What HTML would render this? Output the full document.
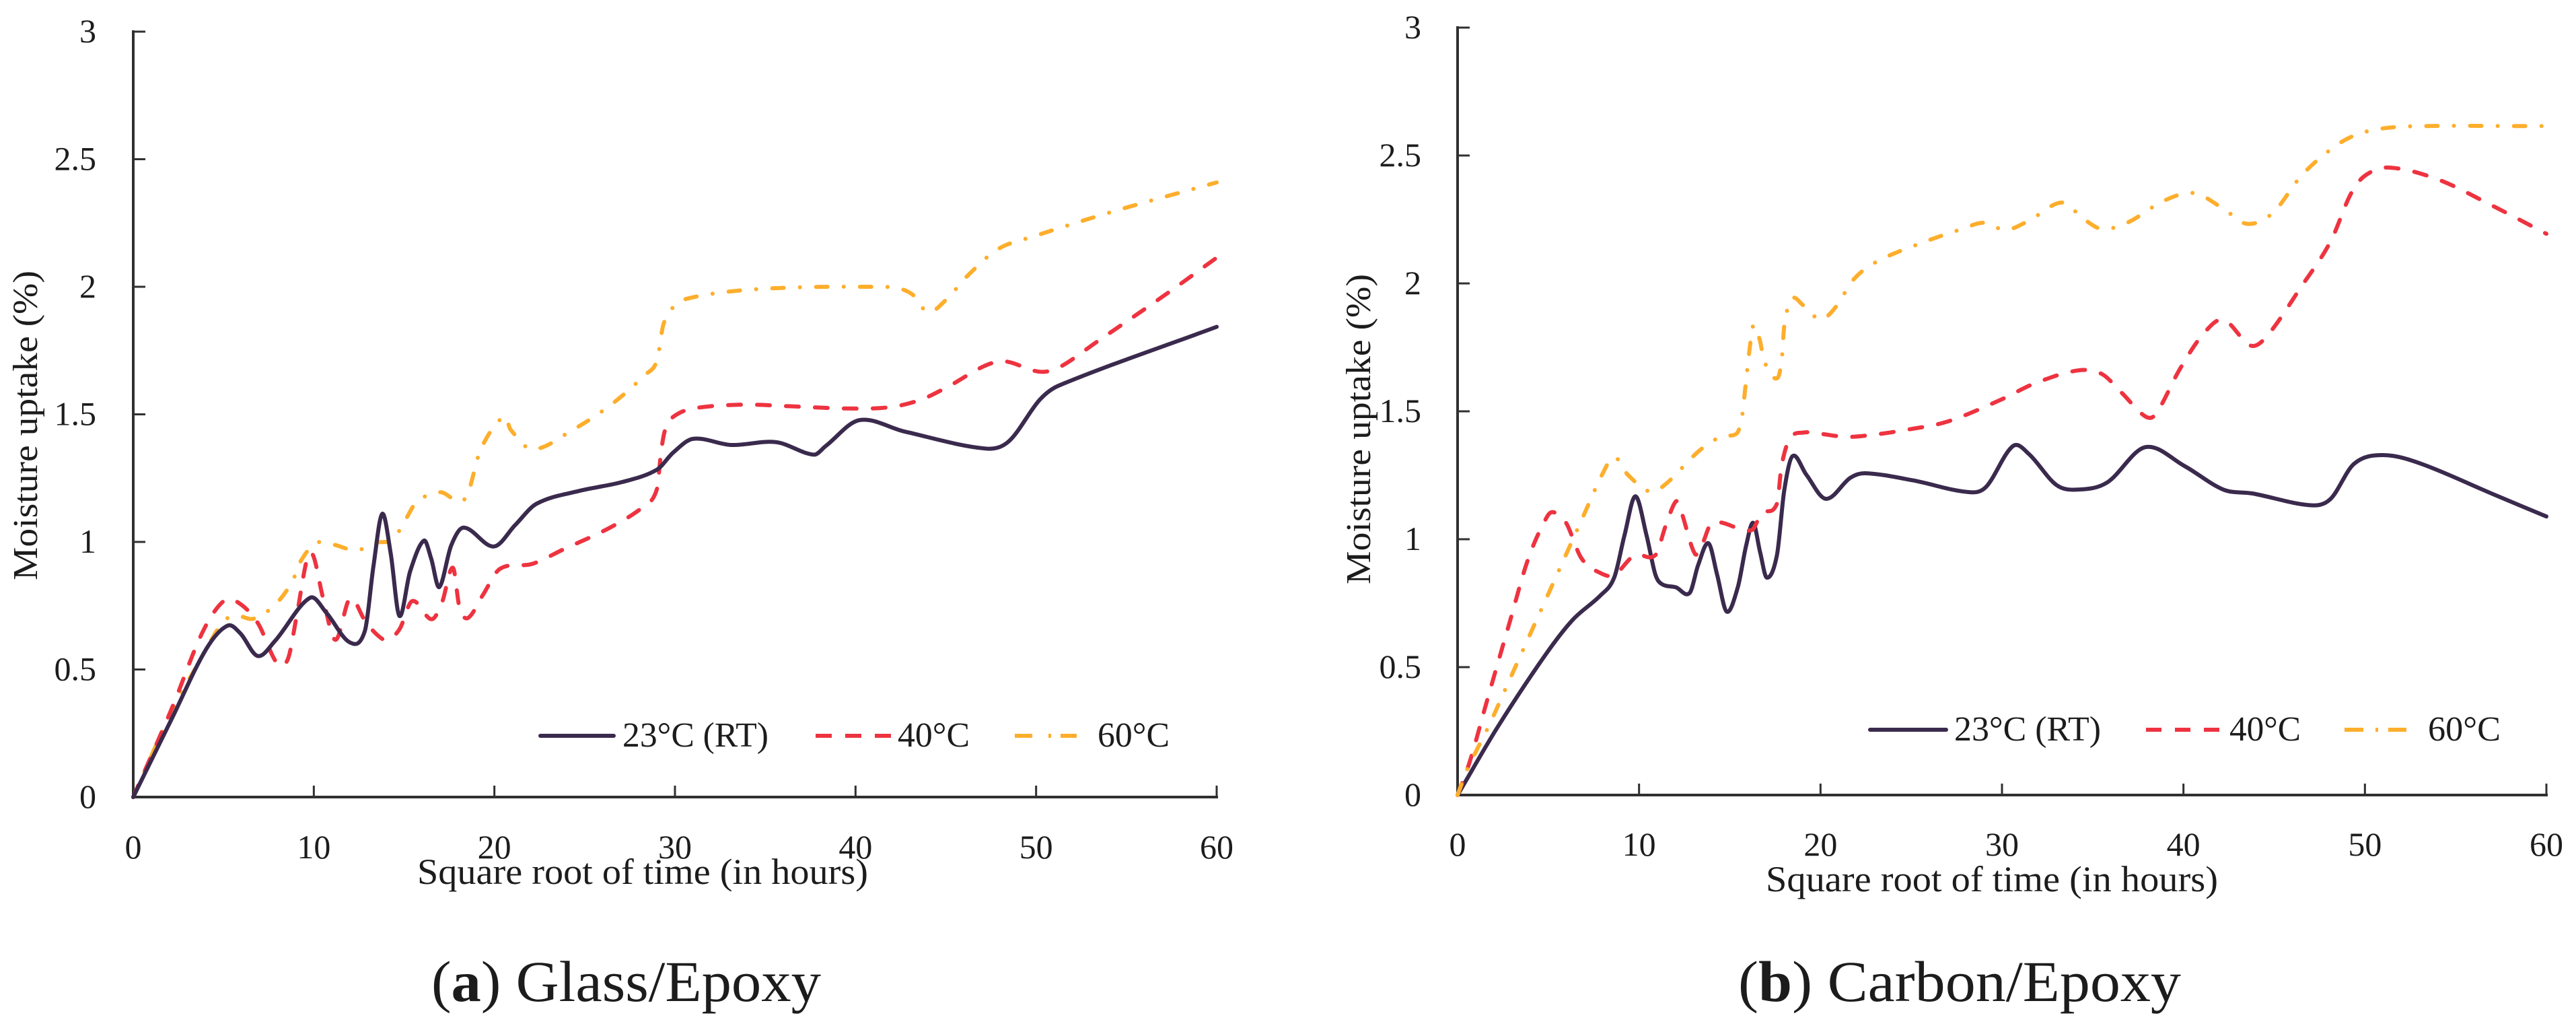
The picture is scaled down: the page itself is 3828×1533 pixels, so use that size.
<!DOCTYPE html>
<html lang="en">
<head>
<meta charset="utf-8">
<title>Moisture uptake: Glass/Epoxy and Carbon/Epoxy</title>
<style>
  html, body { margin: 0; padding: 0; background: #ffffff; }
  body { width: 3828px; height: 1533px; overflow: hidden; }
  svg { display: block; }
  text { font-family: "Liberation Serif", "DejaVu Serif", serif; fill: #1c1c1c; }
</style>
</head>
<body>
<svg id="figure" xmlns="http://www.w3.org/2000/svg" width="3828" height="1533" viewBox="0 0 3828 1533">
  <rect x="0" y="0" width="3828" height="1533" fill="#ffffff"/>

  <g id="panel-a"></g>
  <g id="panel-b"></g>

  <text transform="translate(55,862) rotate(-90)" font-size="52" textLength="460" lengthAdjust="spacingAndGlyphs">Moisture uptake (%)</text>
  <text x="620" y="1313" font-size="54" textLength="670" lengthAdjust="spacingAndGlyphs">Square root of time (in hours)</text>
  <text x="641" y="1487" font-size="86" textLength="579" lengthAdjust="spacingAndGlyphs" fill="#000">(<tspan font-weight="bold">a</tspan>) Glass/Epoxy</text>

  <g>
    <line x1="803" y1="1093" x2="912" y2="1093" stroke="#3a2a4d" stroke-width="6" stroke-linecap="round"/>
    <text x="925" y="1109" font-size="52" textLength="217" lengthAdjust="spacingAndGlyphs">23°C (RT)</text>
    <line x1="1212" y1="1093" x2="1324" y2="1093" stroke="#ee3340" stroke-width="6" stroke-dasharray="24 20"/>
    <text x="1334" y="1109" font-size="52" textLength="107" lengthAdjust="spacingAndGlyphs">40°C</text>
    <line x1="1508" y1="1093" x2="1600" y2="1093" stroke="#fdae2c" stroke-width="6" stroke-dasharray="26 24 4 14 24"/>
    <text x="1631" y="1109" font-size="52" textLength="107" lengthAdjust="spacingAndGlyphs">60°C</text>
  </g>

  <text transform="translate(2036,868) rotate(-90)" font-size="52" textLength="461" lengthAdjust="spacingAndGlyphs">Moisture uptake (%)</text>
  <text x="2624" y="1324" font-size="54" textLength="672" lengthAdjust="spacingAndGlyphs">Square root of time (in hours)</text>
  <text x="2583" y="1487" font-size="86" textLength="658" lengthAdjust="spacingAndGlyphs" fill="#000">(<tspan font-weight="bold">b</tspan>) Carbon/Epoxy</text>

  <g>
    <line x1="2779" y1="1084" x2="2892" y2="1084" stroke="#3a2a4d" stroke-width="6" stroke-linecap="round"/>
    <text x="2904" y="1100" font-size="52" textLength="218" lengthAdjust="spacingAndGlyphs">23°C (RT)</text>
    <line x1="3189" y1="1084" x2="3298" y2="1084" stroke="#ee3340" stroke-width="6" stroke-dasharray="23 20"/>
    <text x="3313" y="1100" font-size="52" textLength="106" lengthAdjust="spacingAndGlyphs">40°C</text>
    <line x1="3484" y1="1084" x2="3576" y2="1084" stroke="#fdae2c" stroke-width="6" stroke-dasharray="28 18 4 15 27"/>
    <text x="3608" y="1100" font-size="52" textLength="108" lengthAdjust="spacingAndGlyphs">60°C</text>
  </g>
</svg>

<script>
// Shared axis tick values
const xTickValues = [0, 10, 20, 30, 40, 50, 60];
const yTickValues = [0, 0.5, 1, 1.5, 2, 2.5, 3];
const yTickLabels = ['0', '0.5', '1', '1.5', '2', '2.5', '3'];

// Glass/Epoxy, 23°C (RT)
const glassRtTime = [0, 2.14, 4.04, 5.23, 5.94, 6.89, 7.84, 9.79, 10.7, 12.0, 12.83, 13.3, 13.79, 14.26, 14.74, 15.33, 16.1, 16.5, 16.95, 17.6, 18.3, 19.97, 21.15, 22.34, 24.7, 27.1, 29, 29.9, 31, 33.1, 35.6, 37.7, 38.35, 40.2, 42.7, 47.2, 48.5, 50.2, 51.3, 60];
const glassRtUptake = [0, 0.308, 0.58, 0.672, 0.641, 0.553, 0.611, 0.781, 0.722, 0.606, 0.652, 0.904, 1.11, 0.955, 0.71, 0.884, 1.005, 0.934, 0.823, 0.985, 1.056, 0.982, 1.066, 1.15, 1.2, 1.235, 1.283, 1.35, 1.404, 1.38, 1.391, 1.342, 1.376, 1.477, 1.433, 1.366, 1.395, 1.557, 1.614, 1.843];

// Glass/Epoxy, 40°C
const glass40Time = [0, 2.14, 3.8, 5, 5.8, 6.9, 7.96, 8.56, 9.03, 9.63, 9.98, 10.5, 11.2, 12, 12.83, 13.43, 14.02, 14.74, 15.45, 16.52, 17.1, 17.7, 18.07, 18.54, 19.37, 20.3, 22.1, 23.8, 26.4, 28.3, 29, 29.24, 29.46, 29.9, 31, 33.75, 36.3, 39.5, 41.9, 43.6, 44.9, 47.9, 50.2, 51.3, 53.4, 57.3, 60];
const glass40Uptake = [0, 0.348, 0.641, 0.768, 0.763, 0.682, 0.525, 0.54, 0.702, 0.934, 0.944, 0.783, 0.616, 0.778, 0.692, 0.641, 0.616, 0.657, 0.768, 0.697, 0.763, 0.899, 0.742, 0.702, 0.793, 0.894, 0.914, 0.97, 1.056, 1.141, 1.207, 1.358, 1.44, 1.49, 1.523, 1.538, 1.532, 1.523, 1.528, 1.557, 1.6, 1.707, 1.667, 1.685, 1.786, 1.976, 2.114];

// Glass/Epoxy, 60°C
const glass60Time = [0, 2.14, 3.57, 4.87, 5.6, 6.66, 7.84, 8.8, 9.27, 10.1, 11.05, 12.36, 13.43, 14.38, 15.1, 15.7, 17, 18.07, 18.54, 19.25, 20.56, 20.9, 22.1, 24.36, 26.5, 28.4, 29, 29.36, 29.9, 30.5, 33.1, 36.5, 40.6, 42.3, 43.2, 44, 45, 46.2, 47.9, 49.8, 54.5, 60];
const glass60Uptake = [0, 0.338, 0.52, 0.677, 0.712, 0.699, 0.753, 0.843, 0.924, 0.995, 0.99, 0.967, 0.997, 1.01, 1.09, 1.157, 1.195, 1.157, 1.192, 1.364, 1.493, 1.44, 1.363, 1.44, 1.54, 1.658, 1.71, 1.852, 1.92, 1.95, 1.982, 1.997, 2.0, 1.995, 1.967, 1.9, 1.948, 2.043, 2.148, 2.196, 2.3, 2.409];

// Carbon/Epoxy, 23°C (RT)
const carbonRtTime = [0, 2.19, 4.84, 6.36, 7.87, 8.63, 9.19, 9.8, 10.42, 10.9, 11.27, 12.03, 12.79, 13.26, 13.83, 14.3, 14.83, 15.44, 15.9, 16.29, 16.67, 17.04, 17.6, 18, 18.46, 19.22, 20.3, 21.64, 22.46, 25.1, 28.06, 29.1, 30.6, 31.5, 33, 34.2, 35.8, 37.9, 40.06, 42.2, 43.8, 47, 48.1, 49.4, 51, 53.1, 57.1, 60];
const carbonRtUptake = [0, 0.264, 0.548, 0.686, 0.78, 0.85, 1.013, 1.168, 1.013, 0.862, 0.824, 0.812, 0.79, 0.9, 0.984, 0.862, 0.717, 0.812, 0.975, 1.064, 0.95, 0.85, 0.938, 1.19, 1.325, 1.252, 1.158, 1.24, 1.258, 1.23, 1.185, 1.203, 1.364, 1.332, 1.212, 1.194, 1.222, 1.36, 1.286, 1.194, 1.179, 1.133, 1.157, 1.295, 1.329, 1.295, 1.175, 1.089];

// Carbon/Epoxy, 40°C
const carbon40Time = [0, 0.68, 1.63, 2.86, 3.9, 4.94, 5.32, 5.98, 6.83, 7.87, 8.63, 9.76, 10.9, 11.46, 12.03, 12.3, 13.07, 13.45, 14.02, 16.19, 16.76, 17.6, 17.86, 18.32, 19.06, 19.8, 21.47, 23.07, 24.68, 27, 29.93, 31.8, 34.2, 35.5, 36.6, 37.9, 38.47, 39.8, 41.1, 42.2, 43.7, 44.6, 46.5, 48.1, 49.2, 50, 51.3, 54, 57.1, 60];
const carbon40Uptake = [0, 0.132, 0.371, 0.673, 0.925, 1.089, 1.105, 1.064, 0.925, 0.868, 0.86, 0.938, 0.938, 1.051, 1.148, 1.114, 0.944, 0.975, 1.064, 1.035, 1.101, 1.139, 1.29, 1.395, 1.417, 1.414, 1.4, 1.41, 1.427, 1.46, 1.545, 1.609, 1.66, 1.646, 1.572, 1.48, 1.489, 1.665, 1.803, 1.858, 1.757, 1.794, 1.988, 2.163, 2.347, 2.421, 2.453, 2.407, 2.301, 2.194];

// Carbon/Epoxy, 60°C
const carbon60Time = [0, 0.49, 1.72, 2.76, 3.8, 4.84, 5.88, 6.92, 7.96, 8.63, 9.38, 10.6, 11.46, 13.27, 14.55, 15.39, 15.66, 15.85, 16.13, 16.31, 16.65, 16.83, 17.14, 17.64, 17.86, 17.98, 18.1, 18.44, 18.99, 19.61, 20.1, 20.85, 21.84, 23.1, 25.4, 27.8, 29, 30.2, 31.5, 33.3, 34.5, 35.5, 36.9, 38.95, 40.6, 42.2, 43.5, 44.9, 46.5, 48.1, 49.4, 51, 53.1, 59.3, 60];
const carbon60Uptake = [0, 0.094, 0.27, 0.434, 0.598, 0.761, 0.925, 1.089, 1.252, 1.322, 1.252, 1.186, 1.215, 1.343, 1.403, 1.414, 1.473, 1.588, 1.766, 1.837, 1.78, 1.718, 1.657, 1.631, 1.7, 1.82, 1.879, 1.943, 1.918, 1.874, 1.859, 1.909, 2.017, 2.085, 2.154, 2.213, 2.237, 2.209, 2.246, 2.316, 2.252, 2.213, 2.237, 2.324, 2.353, 2.292, 2.233, 2.274, 2.421, 2.523, 2.578, 2.606, 2.615, 2.615, 2.615];

const SVG_NS = 'http://www.w3.org/2000/svg';
const RT_STYLE = { stroke: '#3a2a4d', dash: '' };
const T40_STYLE = { stroke: '#ee3340', dash: '19 24' };
const T60_STYLE = { stroke: '#fdae2c', dash: '17 24 0.1 24' };

function makeScale(domainMin, domainMax, rangeMin, rangeMax) {
  return function (v) {
    return rangeMin + (v - domainMin) / (domainMax - domainMin) * (rangeMax - rangeMin);
  };
}

// Cubic Hermite through the points, using a tangent that respects uneven x spacing.
function smoothPath(xs, ys, xScale, yScale) {
  const pts = xs.map(function (x, i) { return [xScale(x), yScale(ys[i])]; });
  const last = pts.length - 1;
  function slope(i) {
    const a = pts[Math.max(0, i - 1)];
    const b = pts[Math.min(last, i + 1)];
    return (b[1] - a[1]) / (b[0] - a[0]);
  }
  let d = 'M' + pts[0][0].toFixed(1) + ' ' + pts[0][1].toFixed(1);
  for (let i = 0; i < last; i++) {
    const p1 = pts[i];
    const p2 = pts[i + 1];
    const dx = (p2[0] - p1[0]) / 3;
    const c1x = p1[0] + dx;
    const c1y = p1[1] + slope(i) * dx;
    const c2x = p2[0] - dx;
    const c2y = p2[1] - slope(i + 1) * dx;
    d += 'C' + c1x.toFixed(1) + ' ' + c1y.toFixed(1) + ' ' + c2x.toFixed(1) + ' ' + c2y.toFixed(1) + ' ' + p2[0].toFixed(1) + ' ' + p2[1].toFixed(1);
  }
  return d;
}

function drawAxes(group, xScale, yScale, xLabelBaseline, yLabelRight) {
  const axisColor = '#303030';

  const yAxis = document.createElementNS(SVG_NS, 'line');
  
  
  yAxis.setAttribute('x1', xScale(0));
  yAxis.setAttribute('x2', xScale(0));
  yAxis.setAttribute('y1', yScale(3) - 2);
  yAxis.setAttribute('y2', yScale(0) + 2);
  yAxis.setAttribute('stroke', axisColor);
  yAxis.setAttribute('stroke-width', '4');
  group.appendChild(yAxis);

  const xAxis = document.createElementNS(SVG_NS, 'line');
  
  
  xAxis.setAttribute('x1', xScale(0) - 2);
  xAxis.setAttribute('x2', xScale(60) + 2);
  xAxis.setAttribute('y1', yScale(0));
  xAxis.setAttribute('y2', yScale(0));
  xAxis.setAttribute('stroke', axisColor);
  xAxis.setAttribute('stroke-width', '4');
  group.appendChild(xAxis);

  xTickValues.forEach(function (value) {
    if (value > 0) {
      const tick = document.createElementNS(SVG_NS, 'line');
      
      
      tick.setAttribute('x1', xScale(value));
      tick.setAttribute('x2', xScale(value));
      tick.setAttribute('y1', yScale(0));
      tick.setAttribute('y2', yScale(0) - 17);
      tick.setAttribute('stroke', axisColor);
      tick.setAttribute('stroke-width', '3');
      group.appendChild(tick);
    }
    const label = document.createElementNS(SVG_NS, 'text');
    
    
    label.setAttribute('x', xScale(value));
    label.setAttribute('y', xLabelBaseline);
    label.setAttribute('font-size', '50');
    label.setAttribute('text-anchor', 'middle');
    label.textContent = String(value);
    group.appendChild(label);
  });

  yTickValues.forEach(function (value, i) {
    if (value > 0) {
      const tick = document.createElementNS(SVG_NS, 'line');
      
      
      tick.setAttribute('x1', xScale(0));
      tick.setAttribute('x2', xScale(0) + 18);
      tick.setAttribute('y1', yScale(value));
      tick.setAttribute('y2', yScale(value));
      tick.setAttribute('stroke', axisColor);
      tick.setAttribute('stroke-width', '3');
      group.appendChild(tick);
    }
    const label = document.createElementNS(SVG_NS, 'text');
    
    
    label.setAttribute('x', yLabelRight);
    label.setAttribute('y', yScale(value) + 16);
    label.setAttribute('font-size', '50');
    label.setAttribute('text-anchor', 'end');
    label.textContent = yTickLabels[i];
    group.appendChild(label);
  });
}

function drawSeries(group, xs, ys, xScale, yScale, style, name) {
  const path = document.createElementNS(SVG_NS, 'path');
  
  
  path.setAttribute('d', smoothPath(xs, ys, xScale, yScale));
  path.setAttribute('fill', 'none');
  path.setAttribute('stroke', style.stroke);
  path.setAttribute('stroke-width', '6');
  path.setAttribute('stroke-linecap', 'round');
  path.setAttribute('stroke-linejoin', 'round');
  if (style.dash) {
    path.setAttribute('stroke-dasharray', style.dash);
  }
  group.appendChild(path);
}

// Panel (a) Glass/Epoxy
const panelA = document.getElementById('panel-a');
const xScaleA = makeScale(0, 60, 198, 1808);
const yScaleA = makeScale(0, 3, 1184, 47);
drawAxes(panelA, xScaleA, yScaleA, 1275, 143);
drawSeries(panelA, glass60Time, glass60Uptake, xScaleA, yScaleA, T60_STYLE, 'series-60c-glass');
drawSeries(panelA, glass40Time, glass40Uptake, xScaleA, yScaleA, T40_STYLE, 'series-40c-glass');
drawSeries(panelA, glassRtTime, glassRtUptake, xScaleA, yScaleA, RT_STYLE, 'series-23c-glass');

// Panel (b) Carbon/Epoxy
const panelB = document.getElementById('panel-b');
const xScaleB = makeScale(0, 60, 2166, 3784);
const yScaleB = makeScale(0, 3, 1181, 41);
drawAxes(panelB, xScaleB, yScaleB, 1271, 2112);
drawSeries(panelB, carbonRtTime, carbonRtUptake, xScaleB, yScaleB, RT_STYLE, 'series-23c-carbon');
drawSeries(panelB, carbon40Time, carbon40Uptake, xScaleB, yScaleB, T40_STYLE, 'series-40c-carbon');
drawSeries(panelB, carbon60Time, carbon60Uptake, xScaleB, yScaleB, T60_STYLE, 'series-60c-carbon');
</script>
</body>
</html>
